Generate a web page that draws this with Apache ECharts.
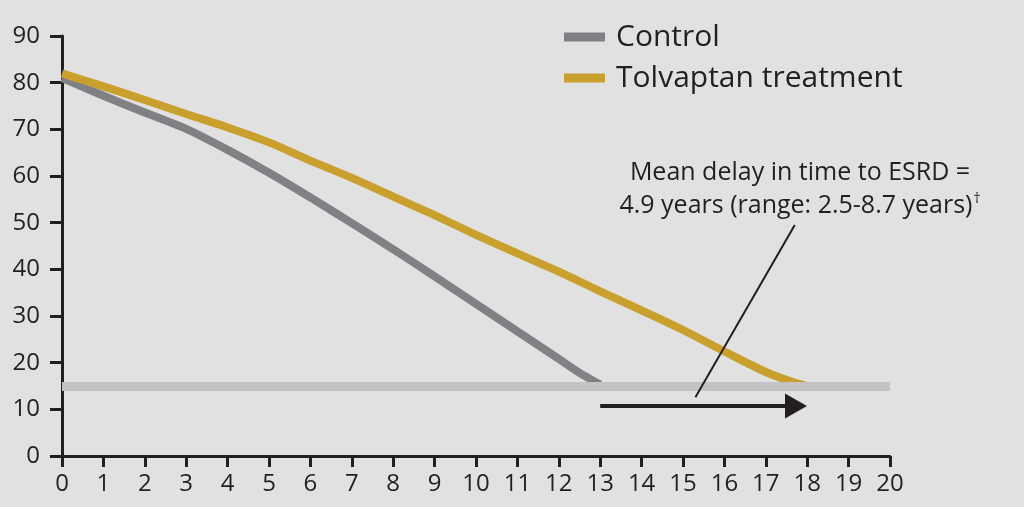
<!DOCTYPE html>
<html><head><meta charset="utf-8">
<script src="https://cdn.jsdelivr.net/npm/echarts@6/dist/echarts.min.js"></script>
<style>html,body{margin:0;padding:0;background:#e1e1e1}#c{width:1024px;height:507px}</style>
</head><body><div id="c"></div>
<script>
const xTicks = [0,1,2,3,4,5,6,7,8,9,10,11,12,13,14,15,16,17,18,19,20];
const controlX = [0,1,2,3,4,5,6,7,8,9,10,11,12,12.5,13];
const controlY = [81,77.2,73.6,70.1,65.6,60.7,55.4,49.9,44.3,38.5,32.6,26.7,20.8,17.8,15.3];
const tolvX = [0,1,2,3,4,5,6,7,8,9,10,11,12,13,14,15,16,17,17.6,18];
const tolvY = [82,79.2,76.3,73.3,70.4,67.2,63.3,59.6,55.6,51.6,47.4,43.4,39.5,35.3,31.2,27,22.4,18,16,15];
const thresholdY = 15;
const arrowFrom = [13, 10.7];
const arrowTo = [17.73, 10.7];
const leaderFrom = [15.3, 12.6];
const leaderTo = [17.7, 49.5];
const annotationLine1 = 'Mean delay in time to ESRD =';
const annotationLine2 = '4.9 years (range: 2.5-8.7 years)';
const annotationMark = '\u2020';

const FONT = '"Open Sans", "Noto Sans", sans-serif';
const axisColor = '#231f20';
const chart = echarts.init(document.getElementById('c'));
chart.setOption({
  backgroundColor: '#e1e1e1',
  animation: false,
  textStyle: {fontFamily: FONT},
  grid: {left: 62, right: 134, top: 36, bottom: 51},
  legend: {
    orient: 'vertical', left: 564, top: 22, padding: 0, itemWidth: 41, itemHeight: 9, itemGap: 11,
    icon: 'rect',
    textStyle: {fontSize: 30, color: '#231f20', fontFamily: FONT, padding: [0,0,0,6]},
    data: ['Control', 'Tolvaptan treatment']
  },
  xAxis: {
    type: 'value', min: 0, max: 20, interval: 1,
    axisLine: {show: true, lineStyle: {color: axisColor, width: 3}},
    axisTick: {show: true, length: 11, lineStyle: {color: axisColor, width: 3}},
    axisLabel: {fontSize: 24, color: axisColor, margin: 16, fontFamily: FONT,
      formatter: v => xTicks.includes(v) ? String(v) : ''},
    splitLine: {show: false}
  },
  yAxis: {
    type: 'value', min: 0, max: 90, interval: 10,
    axisLine: {show: true, lineStyle: {color: axisColor, width: 3}},
    axisTick: {show: true, length: 12, lineStyle: {color: axisColor, width: 3}},
    axisLabel: {fontSize: 24, color: axisColor, margin: 22, fontFamily: FONT},
    splitLine: {show: false}
  },
  series: [
    {
      name: 'Control', type: 'line', smooth: 0.2, symbol: 'none', z: 3,
      color: '#808184',
      lineStyle: {width: 8, color: '#808184'},
      data: controlX.map((x, i) => [x, controlY[i]])
    },
    {
      name: 'Tolvaptan treatment', type: 'line', smooth: 0.3, symbol: 'none', z: 3,
      color: '#c9a02e',
      lineStyle: {width: 8, color: '#c9a02e'},
      data: tolvX.map((x, i) => [x, tolvY[i]])
    },
    {
      name: 'annot', type: 'line', data: [], z: 5, silent: true,
      markLine: {
        silent: true, animation: false, label: {show: false},
        data: [
          [{coord: [0, thresholdY], symbol: 'none', lineStyle: {color: '#c3c3c5', width: 9, type: 'solid'}},
           {coord: [20, thresholdY], symbol: 'none'}],
          [{coord: arrowFrom, symbol: 'none', lineStyle: {color: '#231f20', width: 4, type: 'solid'}},
           {coord: arrowTo, symbol: 'triangle', symbolSize: [25, 22], symbolRotate: -90}],
          [{coord: leaderFrom, symbol: 'none', lineStyle: {color: '#231f20', width: 2, type: 'solid'}},
           {coord: leaderTo, symbol: 'none'}]
        ]
      }
    }
  ],
  graphic: [
    {type: 'text', x: 800, y: 189, silent: true,
      style: {text: '{m|' + annotationLine1 + '}\n{m|' + annotationLine2 + '}{s|' + annotationMark + '}',
        align: 'center', verticalAlign: 'middle', fontFamily: FONT, fill: '#231f20',
        rich: {
          m: {fontSize: 25, lineHeight: 33, fill: '#231f20', fontFamily: FONT},
          s: {fontSize: 14, lineHeight: 33, fill: '#231f20', fontFamily: FONT, padding: [0, 0, 12, 1]}
        }}}
  ]
});
</script></body></html>
